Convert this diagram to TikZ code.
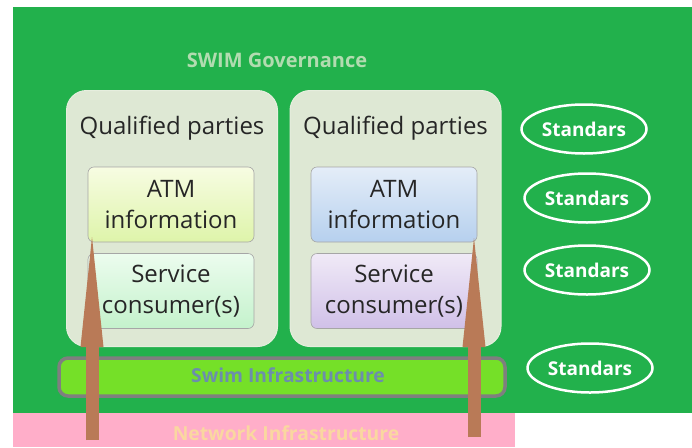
\documentclass[tikz,border=0pt]{standalone}
\usepackage{fontspec}
\setmainfont{Open Sans}
\usetikzlibrary{shapes.geometric}

\definecolor{govgreen}{RGB}{34,177,76}
\definecolor{netpink}{RGB}{255,174,201}
\definecolor{arrowbrown}{RGB}{185,122,87}
\definecolor{swimlime}{RGB}{117,224,40}
\definecolor{swimborder}{RGB}{127,127,127}
\definecolor{swimtext}{RGB}{108,142,172}
\definecolor{nettext}{RGB}{250,215,160}
\definecolor{govtext}{RGB}{178,220,176}
\definecolor{partyfill}{RGB}{222,232,212}
\definecolor{partyedge}{RGB}{230,238,222}

\tikzset{
  party/.style={draw=partyedge, line width=1pt, fill=partyfill, rounded corners=20pt,
    minimum width=211pt, minimum height=256pt, inner sep=0pt},
  partytitle/.style={font=\fontsize{24}{28}\selectfont, text=black!85},
  infobox/.style={draw=black!35, line width=0.6pt, rounded corners=6pt,
    minimum width=166pt, minimum height=75pt, inner sep=0pt, align=center,
    font=\fontsize{24}{31}\selectfont, text=black!85},
  standard/.style={ellipse, draw=white, line width=2.5pt, minimum width=125pt,
    minimum height=49pt, inner sep=0pt, text=white, font=\bfseries\fontsize{19}{22}\selectfont},
  arrowshaft/.style={draw=arrowbrown, line width=13pt, shorten >=100pt},
  arrowhead/.style={fill=arrowbrown},
  bandtext/.style={font=\bfseries\fontsize{19.3}{22}\selectfont}
}

\begin{document}
\begin{tikzpicture}[x=1pt,y=-1pt]
  \useasboundingbox[fill=white] (0,0) rectangle (692,447);

  % governance area and network layer
  \fill[govgreen] (13,7) rectangle (692,413);
  \fill[netpink] (13,413) rectangle (515,447);
  \node[bandtext, text=nettext] (net) at (286,433) {Network Infrastructure};

  \node[text=govtext, font=\bfseries\fontsize{20}{23}\selectfont] (gov) at (277,60) {SWIM Governance};

  % SWIM infrastructure band
  \node[draw=swimborder, line width=3.5pt, fill=swimlime, rounded corners=9pt,
        minimum width=446pt, minimum height=38pt, inner sep=0pt] (swim) at (282,377) {};
  \node[bandtext, text=swimtext] (swimlabel) at (288,375) {Swim Infrastructure};

  % qualified parties
  \node[party] (p1) at (172,218.5) {};
  \node[party] (p2) at (395.5,218.5) {};
  \node[partytitle] (t1) at (172,128) {Qualified parties};
  \node[partytitle] (t2) at (395.5,128) {Qualified parties};

  \node[infobox, top color={rgb,255:red,247;green,252;blue,226}, bottom color={rgb,255:red,222;green,244;blue,170}]
    (atm1) at (171,204.5) {ATM\\information};
  \node[infobox, top color={rgb,255:red,236;green,252;blue,238}, bottom color={rgb,255:red,196;green,242;blue,204}]
    (svc1) at (171,291) {Service\\consumer(s)};
  \node[infobox, top color={rgb,255:red,228;green,237;blue,248}, bottom color={rgb,255:red,182;green,208;blue,238}]
    (atm2) at (394,204.5) {ATM\\information};
  \node[infobox, top color={rgb,255:red,240;green,234;blue,247}, bottom color={rgb,255:red,208;green,192;blue,232}]
    (svc2) at (394,291) {Service\\consumer(s)};

  % standards
  \node[standard] (s1) at (584,129) {Standars};
  \node[standard] (s2) at (587,198) {Standars};
  \node[standard] (s3) at (587,270) {Standars};
  \node[standard] (s4) at (590,368) {Standars};

  % information flow arrows, from the network layer up to the ATM information:
  % a thick shaft and a long narrow head
  \coordinate (a1) at (92,440);
  \coordinate (tip1) at (92,237);
  \coordinate (a2) at (474,437);
  \coordinate (tip2) at (474,238);
  \draw[arrowshaft] (a1) -- (tip1);
  \fill[arrowhead] (tip1) -- ++(-11.5,110) -- ++(23,0) -- cycle;
  \draw[arrowshaft] (a2) -- (tip2);
  \fill[arrowhead] (tip2) -- ++(-11.5,109) -- ++(23,0) -- cycle;
\end{tikzpicture}
\end{document}
